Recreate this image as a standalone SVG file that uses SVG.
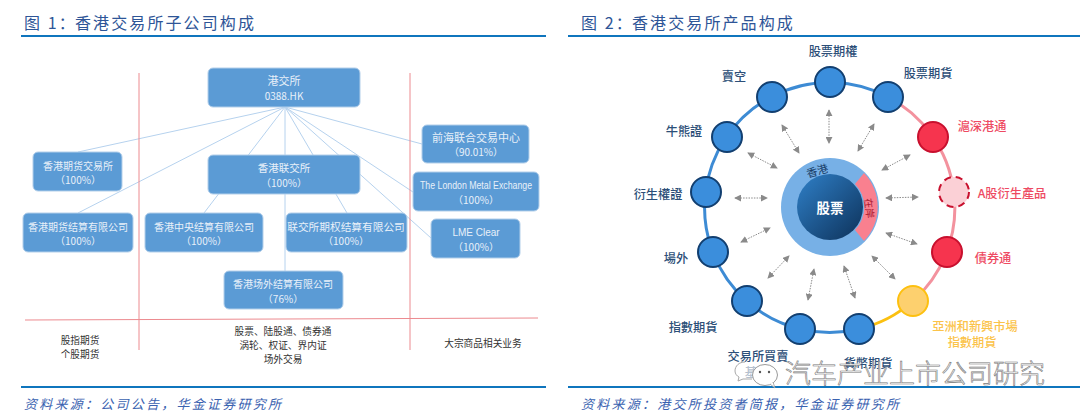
<svg xmlns="http://www.w3.org/2000/svg" width="1080" height="419" viewBox="0 0 1080 419">
<style>
text{font-family:"Noto Sans CJK SC","Liberation Sans",sans-serif;dominant-baseline:central;text-anchor:middle}
.tt{font-size:16px;fill:#2e5597;letter-spacing:2.1px;text-anchor:start}
.src{font-size:13px;fill:#3a62b0;font-style:italic;letter-spacing:2.25px;text-anchor:start}
.rule{stroke:#0f75bd;stroke-width:2;fill:none}
.box{fill:#5b9bd5;stroke:#b3cfea;stroke-width:1}
.bt{font-size:10px;fill:#e8f0f9}
.link{stroke:#b6d2ee;stroke-width:1;fill:none}
.red{stroke:#ec8a8f;stroke-width:1;fill:none}
.biz{font-size:9.7px;fill:#333}
.n{stroke:#123f70;stroke-width:2;fill:#3b8edc}
.r{stroke:#c8102e;stroke-width:2;fill:#f6344e}
.lb{font-size:12.2px;fill:#2d4f78;font-weight:500}
.lr{font-size:12.2px;fill:#ee4a62;font-weight:500}
.ly{font-size:12.2px;fill:#fbc34a;font-weight:500}
.ar{stroke:#8a8a8a;stroke-width:1;stroke-dasharray:1.5 1.2;fill:none;marker-start:url(#ah);marker-end:url(#ah)}
.wm{font-size:26px;fill:#fff;stroke:#777;stroke-width:.6;text-anchor:start;font-weight:300}
.we{fill:#fff;stroke:#9a9a9a;stroke-width:1}
</style>
<defs>
<marker id="ah" viewBox="0 0 8 8" refX="7" refY="4" markerWidth="7" markerHeight="7" markerUnits="userSpaceOnUse" orient="auto-start-reverse"><path d="M0 0L8 4L0 8Z" fill="#8a8a8a"/></marker>
<linearGradient id="core" x1="0" y1="0" x2="1" y2="1"><stop offset="0" stop-color="#2f80c8"/><stop offset="1" stop-color="#0d3159"/></linearGradient>
</defs>

<g id="headers">
<text class="tt" x="24" y="22">图 1：</text><text class="tt" x="75" y="22">香港交易所子公司构成</text>
<text class="tt" x="581" y="22">图 2：</text><text class="tt" x="632" y="22">香港交易所产品构成</text>
<path class="rule" d="M21 36H546M568 36H1080M21 387H546M568 387H1080"/>
<text class="src" x="24" y="403">资料来源：公司公告，华金证券研究所</text>
<text class="src" x="581" y="403">资料来源：港交所投资者简报，华金证券研究所</text>
</g>

<g id="connectors">
<path class="link" d="M285 107L78 152M285 107L78 213M285 107L204 213M285 107V271M285 107L347 213M285 107L422 144M285 107L413 192M285 107L431 238"/>
<path class="red" d="M139 73V350M410 73V350M25 320L538 318"/>
</g>

<g id="n-hkex"><rect class="box" x="208" y="68" width="152" height="39" rx="5"/><text class="bt" x="284" y="80" style="font-size:11px">港交所</text><text class="bt" x="284" y="95">0388.HK</text></g>
<g id="n-hkfe"><rect class="box" x="33" y="152" width="89" height="39" rx="5"/><text class="bt" x="78" y="165">香港期货交易所</text><text class="bt" x="78" y="179">（100%）</text></g>
<g id="n-hkclear"><rect class="box" x="23" y="213" width="110" height="39" rx="5"/><text class="bt" x="78" y="226">香港期货结算有限公司</text><text class="bt" x="78" y="240">（100%）</text></g>
<g id="n-sehk"><rect class="box" x="208" y="155" width="152" height="39" rx="5"/><text class="bt" x="284" y="167" style="font-size:10.5px">香港联交所</text><text class="bt" x="284" y="182">（100%）</text></g>
<g id="n-hkscc"><rect class="box" x="145" y="213" width="118" height="39" rx="5"/><text class="bt" x="204" y="226">香港中央结算有限公司</text><text class="bt" x="204" y="240">（100%）</text></g>
<g id="n-seoch"><rect class="box" x="286" y="213" width="121" height="39" rx="5"/><text class="bt" x="346" y="226" style="font-size:10.7px">联交所期权结算有限公司</text><text class="bt" x="346" y="240">（100%）</text></g>
<g id="n-otc"><rect class="box" x="224" y="271" width="119" height="38" rx="5"/><text class="bt" x="283" y="283">香港场外结算有限公司</text><text class="bt" x="283" y="298">（76%）</text></g>
<g id="n-qme"><rect class="box" x="422" y="125" width="107" height="38" rx="5"/><text class="bt" x="476" y="137" style="font-size:11px">前海联合交易中心</text><text class="bt" x="476" y="151">（90.01%）</text></g>
<g id="n-lme"><rect class="box" x="413" y="172" width="126" height="39" rx="5"/><text class="bt" x="476" y="185" textLength="112" lengthAdjust="spacingAndGlyphs" style="font-family:'Liberation Sans',sans-serif;font-size:11px">The London Metal Exchange</text><text class="bt" x="476" y="199">（100%）</text></g>
<g id="n-lmeclear"><rect class="box" x="431" y="219" width="89" height="39" rx="5"/><text class="bt" x="476" y="232" style="font-family:'Liberation Sans',sans-serif">LME Clear</text><text class="bt" x="476" y="246">（100%）</text></g>

<g id="business">
<text class="biz" x="80" y="340">股指期货</text><text class="biz" x="80" y="354">个股期货</text>
<text class="biz" x="283" y="331">股票、陆股通、债券通</text><text class="biz" x="283" y="345">涡轮、权证、界内证</text><text class="biz" x="283" y="359">场外交易</text>
<text class="biz" x="483" y="343">大宗商品相关业务</text>
</g>

<g id="ring-connectors" fill="none" stroke-width="3">
<path d="M888 97A125 125 0 1 0 859 329" stroke="#3d8bd4"/>
<path d="M888 97A125 125 0 0 1 913 301" stroke="#f3929e"/>
<path d="M913 301A125 125 0 0 1 859 329" stroke="#fbc010"/>
<path class="ar" d="M829 110V143"/><path class="ar" d="M782 125L799 153"/><path class="ar" d="M748 153L777 168"/><path class="ar" d="M735 198L767 198"/>
<path class="ar" d="M874 124L858 151"/><path class="ar" d="M910 155L882 170"/><path class="ar" d="M886 198L918 197"/>
<path class="ar" d="M741 242L770 228"/><path class="ar" d="M768 278L789 256"/><path class="ar" d="M808 300L814 269"/><path class="ar" d="M844 266L855 298"/><path class="ar" d="M872 256L895 279"/><path class="ar" d="M886 233L917 244"/>
</g>

<g id="core-node">
<circle cx="830" cy="207" r="49" fill="#77b0e6"/>
<path d="M864 173A49 49 0 0 1 864 241L855 230A33 33 0 0 0 855 184Z" fill="#f9808f"/>
<circle cx="830" cy="207" r="33" fill="url(#core)"/>
<text x="830" y="207" style="font-size:13.5px;font-weight:700;fill:#fff">股票</text>
<text transform="translate(817 170) rotate(-15)" style="font-size:11px;fill:#173d66">香港</text>
<text transform="translate(870 208) rotate(82)" style="font-size:10px;fill:#a8182e">在岸</text>
</g>

<g id="n1"><circle class="n" cx="830" cy="82" r="15"/><text class="lb" x="833" y="51">股票期權</text></g>
<g id="n2"><circle class="n" cx="888" cy="97" r="15"/><text class="lb" x="928" y="73">股票期貨</text></g>
<g id="n3"><circle class="r" cx="933" cy="137" r="15"/><text class="lr" x="982" y="126">滬深港通</text></g>
<g id="n4"><circle cx="954" cy="192" r="15" fill="#fbd0d6" stroke="#c8102e" stroke-width="2" stroke-dasharray="7 5"/><text class="lr" x="1012" y="193">A股衍生產品</text></g>
<g id="n5"><circle class="r" cx="947" cy="252" r="15"/><text class="lr" x="993" y="258">債券通</text></g>
<g id="n6"><circle cx="913" cy="301" r="15" fill="#fdd06e" stroke="#fdc010" stroke-width="2"/><text class="ly" x="975" y="326">亞洲和新興市場</text><text class="ly" x="972" y="342">指數期貨</text></g>
<g id="n7"><circle class="n" cx="859" cy="329" r="15"/><text class="lb" x="868" y="363">貨幣期貨</text></g>
<g id="n8"><circle class="n" cx="800" cy="329" r="15"/><text class="lb" x="758" y="356">交易所買賣</text><text class="lb" x="757" y="372" style="opacity:.35">基金</text></g>
<g id="n9"><circle class="n" cx="747" cy="301" r="15"/><text class="lb" x="693" y="327">指數期貨</text></g>
<g id="n10"><circle class="n" cx="713" cy="252" r="15"/><text class="lb" x="676" y="258">場外</text></g>
<g id="n11"><circle class="n" cx="706" cy="192" r="15"/><text class="lb" x="658" y="194">衍生權證</text></g>
<g id="n12"><circle class="n" cx="727" cy="137" r="15"/><text class="lb" x="684" y="131">牛熊證</text></g>
<g id="n13"><circle class="n" cx="772" cy="97" r="15"/><text class="lb" x="734" y="76">賣空</text></g>

<g id="watermark">
<path d="M745 362C739 362 735 366 735 371C735 374 737 376 739 377L738 381L743 379L752 379" fill="none" stroke="#a8a8a8" stroke-width="1"/>
<ellipse class="we" cx="765" cy="375" rx="12.5" ry="10.5"/>
<path class="we" d="M770 384L775 388L773 382" style="stroke-width:.8"/>
<circle cx="760" cy="372" r="1.2" fill="#555"/><circle cx="769" cy="372" r="1.2" fill="#555"/>
<text class="wm" x="785" y="371">汽车产业上市公司研究</text>
</g>
</svg>
